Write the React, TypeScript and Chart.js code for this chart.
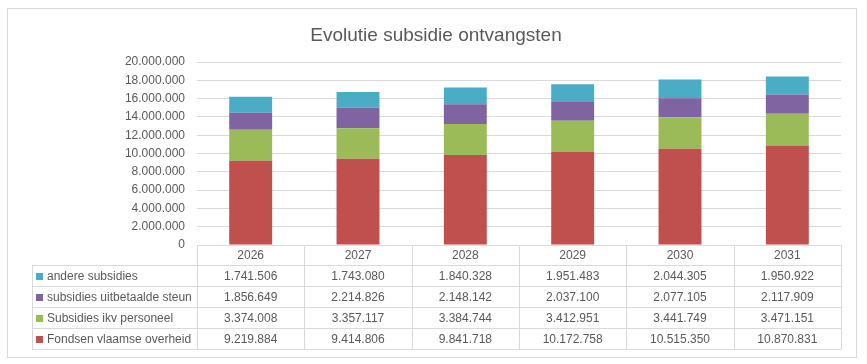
import React, { useEffect, useRef } from "react";
import { Chart, registerables } from "chart.js";

Chart.register(...registerables);

const title = "Evolutie subsidie ontvangsten";
const years = ["2026", "2027", "2028", "2029", "2030", "2031"];
const fondsen = [9219884, 9414806, 9841718, 10172758, 10515350, 10870831];
const personeel = [3374008, 3357117, 3384744, 3412951, 3441749, 3471151];
const uitbetaald = [1856649, 2214826, 2148142, 2037100, 2077105, 2117909];
const andere = [1741506, 1743080, 1840328, 1951483, 2044305, 1950922];
const seriesNames = [
  "Fondsen vlaamse overheid",
  "Subsidies ikv personeel",
  "subsidies uitbetaalde steun",
  "andere subsidies",
];
const seriesColors = ["#C0504D", "#9BBB59", "#8064A2", "#4BACC6"];

const fmt = (v: number) => String(Math.round(v)).replace(/\B(?=(\d{3})+(?!\d))/g, ".");

const FONT = '"Liberation Sans", Arial, sans-serif';
const TEXT = "#595959";
const LINE = "#D9D9D9";

const tablePlugin = {
  id: "tablePlugin",
  afterDraw(chart: any) {
    const ctx = chart.ctx;
    const x = chart.scales.x;
    const area = chart.chartArea;
    const n = years.length;
    const left = area.left;
    const right = area.right;
    const colW = (right - left) / n;
    const top = area.bottom;
    const headerH = 20;
    const rowH = 21;
    const legendLeft = 32;
    const datasets = chart.data.datasets;
    const rows = datasets.length;
    const tableBottom = top + headerH + rowH * rows;
    ctx.save();
    // outer border
    ctx.strokeStyle = LINE;
    ctx.lineWidth = 1;
    ctx.strokeRect(7.5, 8.5, 849, 349);
    // title
    ctx.fillStyle = TEXT;
    ctx.font = `19px ${FONT}`;
    ctx.textAlign = "center";
    ctx.textBaseline = "alphabetic";
    ctx.fillText(title, 436, 41);
    // table lines
    ctx.beginPath();
    ctx.moveTo(left, Math.round(top) + 0.5);
    ctx.lineTo(right, Math.round(top) + 0.5);
    for (let r = 0; r <= rows; r++) {
      const y = Math.round(top + headerH + r * rowH) + 0.5;
      ctx.moveTo(legendLeft, y);
      ctx.lineTo(right, y);
    }
    for (let c = 0; c <= n; c++) {
      const xx = Math.round(left + c * colW) + 0.5;
      ctx.moveTo(xx, top);
      ctx.lineTo(xx, tableBottom);
    }
    ctx.moveTo(legendLeft + 0.5, top + headerH);
    ctx.lineTo(legendLeft + 0.5, tableBottom);
    ctx.stroke();
    // header
    ctx.font = `12px ${FONT}`;
    ctx.textBaseline = "middle";
    ctx.textAlign = "center";
    ctx.fillStyle = TEXT;
    years.forEach((y, i) => {
      ctx.fillText(y, x.getPixelForValue(i), top + headerH / 2 + 1);
    });
    // rows: reversed order (top series first)
    for (let r = 0; r < rows; r++) {
      const ds = datasets[rows - 1 - r];
      const cy = top + headerH + r * rowH + rowH / 2 + 1;
      ctx.fillStyle = ds.backgroundColor;
      ctx.fillRect(36, Math.round(cy - 4), 7, 7);
      ctx.fillStyle = TEXT;
      ctx.textAlign = "left";
      ctx.fillText(ds.label, 47, cy);
      ctx.textAlign = "center";
      ds.data.forEach((v: number, i: number) => {
        ctx.fillText(fmt(v), x.getPixelForValue(i), cy);
      });
    }
    ctx.restore();
  },
};

export default function App() {
  const ref = useRef<HTMLCanvasElement>(null);
  useEffect(() => {
    const seriesData = [fondsen, personeel, uitbetaald, andere];
    const chart = new Chart(ref.current!, {
      type: "bar",
      data: {
        labels: years,
        datasets: seriesData.map((d, i) => ({
          label: seriesNames[i],
          data: d,
          backgroundColor: seriesColors[i],
          borderWidth: 0,
          barPercentage: 0.4,
          categoryPercentage: 1,
        })),
      },
      options: {
        animation: false,
        responsive: false,
        maintainAspectRatio: false,
        layout: { padding: { left: 0, right: 26, top: 62, bottom: 119 } },
        plugins: {
          legend: { display: false },
          title: { display: false },
          tooltip: { enabled: false },
        },
        scales: {
          x: { stacked: true, display: false },
          y: {
            stacked: true,
            min: 0,
            max: 20000000,
            afterFit: (s: any) => {
              s.width = 197;
            },
            ticks: {
              stepSize: 2000000,
              padding: 12,
              color: TEXT,
              font: { family: FONT, size: 12 },
              callback: (v: any) => fmt(Number(v)),
            },
            grid: { color: LINE, drawTicks: false },
            border: { display: false },
          },
        },
      },
      plugins: [tablePlugin],
    });
    return () => chart.destroy();
  }, []);
  return (
    <div style={{ position: "fixed", left: 0, top: 0, width: 867, height: 364, background: "#fff" }}>
      <canvas ref={ref} width={867} height={364} style={{ width: 867, height: 364 }} />
    </div>
  );
}
